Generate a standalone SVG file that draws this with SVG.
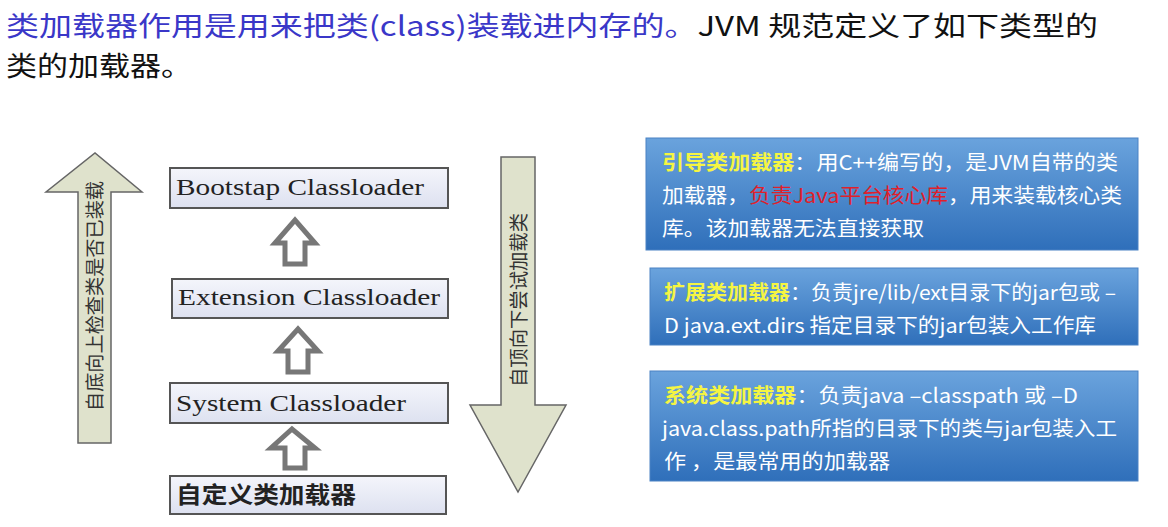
<svg xmlns="http://www.w3.org/2000/svg" width="1168" height="527" viewBox="0 0 1168 527">
<defs>
<linearGradient id="bg" x1="0" y1="0" x2="0" y2="1"><stop offset="0" stop-color="#6aa3dd"/><stop offset="1" stop-color="#2f6fba"/></linearGradient>
<linearGradient id="nb" x1="0" y1="0" x2="0" y2="1"><stop offset="0" stop-color="#f4f5fb"/><stop offset="1" stop-color="#dde1f0"/></linearGradient>
<style>
.t{font-family:"Noto Sans CJK SC","Liberation Sans",sans-serif}
.nb{fill:url(#nb);stroke:#555;stroke-width:2}
.nt{font-family:"Liberation Serif","Noto Sans CJK SC",serif;font-size:23px;fill:#222}
.hol{fill:#fff;stroke:#777;stroke-width:5;stroke-linejoin:miter}
.big{fill:#dfe2cc;stroke:#666;stroke-width:1.5}
.vt{font-family:"Noto Sans CJK SC",serif;font-size:19px;fill:#333}
.bx{fill:url(#bg);stroke:#4a82c4;stroke-width:1}
.bt{font-family:"Noto Sans CJK SC","Liberation Sans",sans-serif;font-size:20px;fill:#fff}
.y{fill:#f5f542;font-weight:bold}
</style>
</defs>
<rect width="1168" height="527" fill="#fff"/>
<text class="t" x="6" y="36" font-size="27" textLength="1092" lengthAdjust="spacingAndGlyphs"><tspan fill="#3a37c8">类加载器作用是用来把类(class)装载进内存的。</tspan><tspan fill="#111">JVM 规范定义了如下类型的</tspan></text>
<text class="t" x="6" y="76" font-size="27" fill="#111" textLength="186" lengthAdjust="spacingAndGlyphs">类的加载器。</text>

<g id="arrow-up-big"><polygon class="big" points="78,443 111,443 111,192 142,192 95,153 46,192 78,192"/>
<text class="vt" transform="translate(102,411) rotate(-90)" textLength="230" lengthAdjust="spacingAndGlyphs">自底向上检查类是否已装载</text></g>
<g id="arrow-down-big"><polygon class="big" points="501,157 535,157 535,405 566,405 518,492 470,405 501,405"/>
<text class="vt" transform="translate(526,387) rotate(-90)" textLength="174" lengthAdjust="spacingAndGlyphs">自顶向下尝试加载类</text></g>

<g id="bootstrap"><rect class="nb" x="170" y="168" width="278" height="40"/><text class="nt" x="176" y="195" textLength="248" lengthAdjust="spacingAndGlyphs">Bootstap Classloader</text></g>
<g id="extension"><rect class="nb" x="172" y="279" width="276" height="39"/><text class="nt" x="178" y="305" textLength="262" lengthAdjust="spacingAndGlyphs">Extension Classloader</text></g>
<g id="system"><rect class="nb" x="170" y="383" width="278" height="40"/><text class="nt" x="176" y="411" textLength="230" lengthAdjust="spacingAndGlyphs">System Classloader</text></g>
<g id="custom"><rect class="nb" x="170" y="476" width="276" height="38"/><text class="nt" x="176" y="503" font-family="Noto Sans CJK SC" font-weight="bold" font-size="20" textLength="180" lengthAdjust="spacingAndGlyphs">自定义类加载器</text></g>

<g id="connectors">
<polygon class="hol" points="285,264 305,264 305,243 315,243 295,220 275,243 285,243"/>
<polygon class="hol" points="288,372 308,372 308,351 318,351 298,329 278,351 288,351"/>
<polygon class="hol" points="285,468 305,468 305,448 315,448 292,429 271,448 285,448"/>
</g>

<g id="box-bootstrap"><rect class="bx" x="646" y="138" width="492" height="112"/>
<text class="bt" x="662" y="170" textLength="456" lengthAdjust="spacingAndGlyphs"><tspan class="y">引导类加载器</tspan>：用C++编写的，是JVM自带的类</text>
<text class="bt" x="662" y="203" textLength="460" lengthAdjust="spacingAndGlyphs">加载器，<tspan fill="#e0202a">负责Java平台核心库</tspan>，用来装载核心类</text>
<text class="bt" x="662" y="236" textLength="262" lengthAdjust="spacingAndGlyphs">库。该加载器无法直接获取</text></g>
<g id="box-ext"><rect class="bx" x="650" y="268" width="488" height="77"/>
<text class="bt" x="664" y="300" textLength="452" lengthAdjust="spacingAndGlyphs"><tspan class="y">扩展类加载器</tspan>：负责jre/lib/ext目录下的jar包或 –</text>
<text class="bt" x="664" y="333" textLength="432" lengthAdjust="spacingAndGlyphs">D java.ext.dirs 指定目录下的jar包装入工作库</text></g>
<g id="box-sys"><rect class="bx" x="650" y="371" width="488" height="110"/>
<text class="bt" x="664" y="403" textLength="414" lengthAdjust="spacingAndGlyphs"><tspan class="y">系统类加载器</tspan>：负责java –classpath 或 –D</text>
<text class="bt" x="662" y="436" textLength="455" lengthAdjust="spacingAndGlyphs">java.class.path所指的目录下的类与jar包装入工</text>
<text class="bt" x="664" y="469" textLength="226" lengthAdjust="spacingAndGlyphs">作 ，是最常用的加载器</text></g>
</svg>
